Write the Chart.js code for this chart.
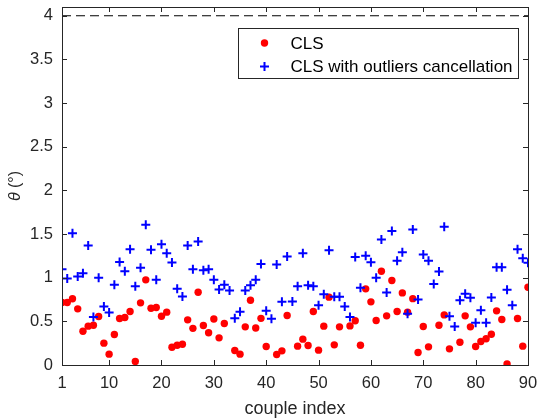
<!DOCTYPE html>
<html>
<head>
<meta charset="utf-8">
<script src="https://cdn.jsdelivr.net/npm/chart.js@4.4.1/dist/chart.umd.min.js"></script>
<style>
  html, body { margin: 0; padding: 0; background: #fff; }
  #wrap { width: 538px; height: 420px; }
</style>
</head>
<body>
<div id="wrap"><canvas id="thetaChart" width="538" height="420"></canvas></div>
<script>
// couple indices 1..90
const coupleIndex = [1,2,3,4,5,6,7,8,9,10,11,12,13,14,15,16,17,18,19,20,
  21,22,23,24,25,26,27,28,29,30,31,32,33,34,35,36,37,38,39,40,
  41,42,43,44,45,46,47,48,49,50,51,52,53,54,55,56,57,58,59,60,
  61,62,63,64,65,66,67,68,69,70,71,72,73,74,75,76,77,78,79,80,
  81,82,83,84,85,86,87,88,89,90];

// theta (deg), plain CLS (null = no point in the figure)
const clsTheta = [0.716,0.716,0.758,0.643,0.387,0.445,0.456,0.555,0.25,0.124,
  0.349,0.532,0.544,0.612,0.04,0.712,0.975,0.65,0.658,0.559,
  0.605,0.204,0.227,0.238,0.517,0.42,0.834,0.452,0.37,0.527,
  0.311,0.475,null,0.166,0.124,0.437,0.742,0.424,0.534,0.212,
  null,0.121,0.162,0.567,null,0.216,0.296,0.223,0.612,0.17,
  0.445,0.777,0.231,0.437,null,0.448,0.506,0.227,0.872,0.723,
  0.51,1.074,0.563,0.968,0.612,0.826,0.605,0.76,0.143,0.441,
  0.208,null,0.456,0.574,0.185,null,0.261,0.563,0.437,0.212,
  0.269,0.3,0.353,0.62,0.521,0.013,null,0.532,0.216,0.891];

// theta (deg), CLS with outliers cancellation
const clsOutTheta = [1.097,0.99,1.509,1.013,1.05,1.368,0.551,0.998,0.67,0.6,
  0.918,1.181,1.074,1.326,0.903,1.113,1.605,1.319,0.975,1.383,
  1.28,1.174,0.872,0.784,1.368,1.097,1.414,1.086,1.097,0.975,
  0.865,0.92,0.853,0.534,0.611,0.853,0.914,0.975,1.158,0.62,
  0.529,1.15,0.723,1.242,0.727,0.902,1.28,0.914,0.903,0.685,
  0.811,1.315,0.781,0.781,0.67,0.551,1.238,0.884,1.25,1.177,
  0.998,1.437,0.83,1.536,1.193,1.29,0.586,1.551,0.75,1.265,
  1.193,0.929,1.07,1.582,0.559,0.44,0.742,0.815,0.769,0.483,
  0.628,0.483,0.773,1.12,1.12,0.861,0.685,1.326,1.223,1.17];

// dashed reference level
const refX = [1, 90];
const refLevel = [4, 4];

const xTicks = [1,10,20,30,40,50,60,70,80,90];
const yTicks = [0,0.5,1,1.5,2,2.5,3,3.5,4];

const FONT = '"Liberation Sans", Arial, Helvetica, sans-serif';
const AXIS_COLOR = '#262626';

function toPoints(xs, ys) {
  return xs.map((x, i) => ({ x: x, y: ys[i] }));
}

// frame, inward ticks, legend box and the y label (matlab look)
const matlabAxes = {
  id: 'matlabAxes',
  afterDatasetsDraw(chart) {
    const ctx = chart.ctx;
    const a = chart.chartArea;
    const xs = chart.scales.x, ys = chart.scales.y;
    const tl = 5;
    ctx.save();
    ctx.strokeStyle = AXIS_COLOR;
    ctx.lineWidth = 1;
    ctx.beginPath();
    xTicks.forEach(v => {
      const px = Math.round(xs.getPixelForValue(v)) + 0.5;
      ctx.moveTo(px, a.bottom); ctx.lineTo(px, a.bottom - tl);
      ctx.moveTo(px, a.top); ctx.lineTo(px, a.top + tl);
    });
    yTicks.forEach(v => {
      const py = Math.round(ys.getPixelForValue(v)) + 0.5;
      ctx.moveTo(a.left, py); ctx.lineTo(a.left + tl, py);
      ctx.moveTo(a.right, py); ctx.lineTo(a.right - tl, py);
    });
    ctx.stroke();
    ctx.strokeRect(Math.round(a.left) + 0.5, Math.round(a.top) + 0.5,
      Math.round(a.right - a.left), Math.round(a.bottom - a.top));

    // legend
    const bw = 280, bh = 50;
    const bx = Math.round(a.right - 10 - bw) + 0.5, by = Math.round(a.top + 21) + 0.5;
    ctx.fillStyle = '#fff';
    ctx.fillRect(bx, by, bw, bh);
    ctx.strokeStyle = AXIS_COLOR;
    ctx.strokeRect(bx, by, bw, bh);
    const rows = [14.5, 38];
    const sets = chart.data.datasets.filter(d => d.inLegend);
    sets.forEach((d, i) => {
      const cy = by + rows[i];
      const mx = bx + 26;
      if (d.pointStyle === 'cross') {
        ctx.strokeStyle = d.borderColor;
        ctx.lineWidth = d.borderWidth;
        ctx.beginPath();
        ctx.moveTo(mx - d.pointRadius, cy); ctx.lineTo(mx + d.pointRadius, cy);
        ctx.moveTo(mx, cy - d.pointRadius); ctx.lineTo(mx, cy + d.pointRadius);
        ctx.stroke();
      } else {
        ctx.fillStyle = d.backgroundColor;
        ctx.beginPath();
        ctx.arc(mx, cy, d.pointRadius, 0, Math.PI * 2);
        ctx.fill();
      }
      ctx.fillStyle = '#000';
      ctx.font = '17px ' + FONT;
      ctx.textBaseline = 'middle';
      ctx.textAlign = 'left';
      ctx.fillText(d.label, bx + 52, cy + 1);
    });
    ctx.restore();
  },
  afterDraw(chart) {
    const ctx = chart.ctx;
    const a = chart.chartArea;
    ctx.save();
    ctx.translate(16, (a.top + a.bottom) / 2);
    ctx.rotate(-Math.PI / 2);
    ctx.fillStyle = AXIS_COLOR;
    ctx.textBaseline = 'middle';
    const t1 = 'θ', t2 = ' (°)';
    ctx.font = 'italic 16px ' + FONT;
    const w1 = ctx.measureText(t1).width;
    ctx.font = '16px ' + FONT;
    const w2 = ctx.measureText(t2).width;
    const x0 = -(w1 + w2) / 2;
    ctx.font = 'italic 16px ' + FONT;
    ctx.textAlign = 'left';
    ctx.fillText(t1, x0, 0);
    ctx.font = '16px ' + FONT;
    ctx.fillText(t2, x0 + w1, 0);
    ctx.restore();
  }
};

new Chart(document.getElementById('thetaChart'), {
  type: 'scatter',
  data: {
    datasets: [
      {
        label: 'CLS',
        inLegend: true,
        data: toPoints(coupleIndex, clsTheta),
        pointStyle: 'circle',
        pointRadius: 3.7,
        pointHoverRadius: 3.7,
        backgroundColor: '#ff0000',
        borderColor: '#ff0000',
        borderWidth: 0,
        order: 3
      },
      {
        label: 'CLS with outliers cancellation',
        inLegend: true,
        data: toPoints(coupleIndex, clsOutTheta),
        pointStyle: 'cross',
        pointRadius: 4.5,
        pointHoverRadius: 4.5,
        backgroundColor: '#0000ff',
        borderColor: '#0000ff',
        borderWidth: 2,
        order: 2
      },
      {
        label: 'reference',
        inLegend: false,
        type: 'line',
        data: toPoints(refX, refLevel),
        borderColor: '#000',
        borderWidth: 1.2,
        borderDash: [9, 5],
        pointRadius: 0,
        fill: false,
        order: 1
      }
    ]
  },
  options: {
    responsive: false,
    animation: false,
    devicePixelRatio: 1,
    events: [],
    layout: { padding: { top: 7, right: 10, left: 0, bottom: 0 } },
    plugins: {
      legend: { display: false },
      tooltip: { enabled: false }
    },
    scales: {
      x: {
        type: 'linear',
        min: 1,
        max: 90,
        grid: { display: false, drawTicks: false },
        border: { display: false },
        afterBuildTicks: s => { s.ticks = xTicks.map(v => ({ value: v })); },
        afterFit: s => { s.height = 55; s.paddingLeft = 0; s.paddingRight = 0; },
        ticks: {
          autoSkip: false,
          maxRotation: 0,
          padding: 9,
          color: AXIS_COLOR,
          font: { family: FONT, size: 16.5 }
        },
        title: {
          display: true,
          text: 'couple index',
          color: AXIS_COLOR,
          font: { family: FONT, size: 18 },
          padding: { top: 0, bottom: 0 }
        }
      },
      y: {
        type: 'linear',
        min: 0,
        max: 4.1,
        grid: { display: false, drawTicks: false },
        border: { display: false },
        afterBuildTicks: s => { s.ticks = yTicks.map(v => ({ value: v })); },
        afterFit: s => { s.width = 62; s.paddingTop = 0; s.paddingBottom = 0; },
        ticks: {
          padding: 9,
          color: AXIS_COLOR,
          font: { family: FONT, size: 16.5 },
          callback: v => String(v)
        }
      }
    }
  },
  plugins: [matlabAxes]
});
</script>
</body>
</html>
